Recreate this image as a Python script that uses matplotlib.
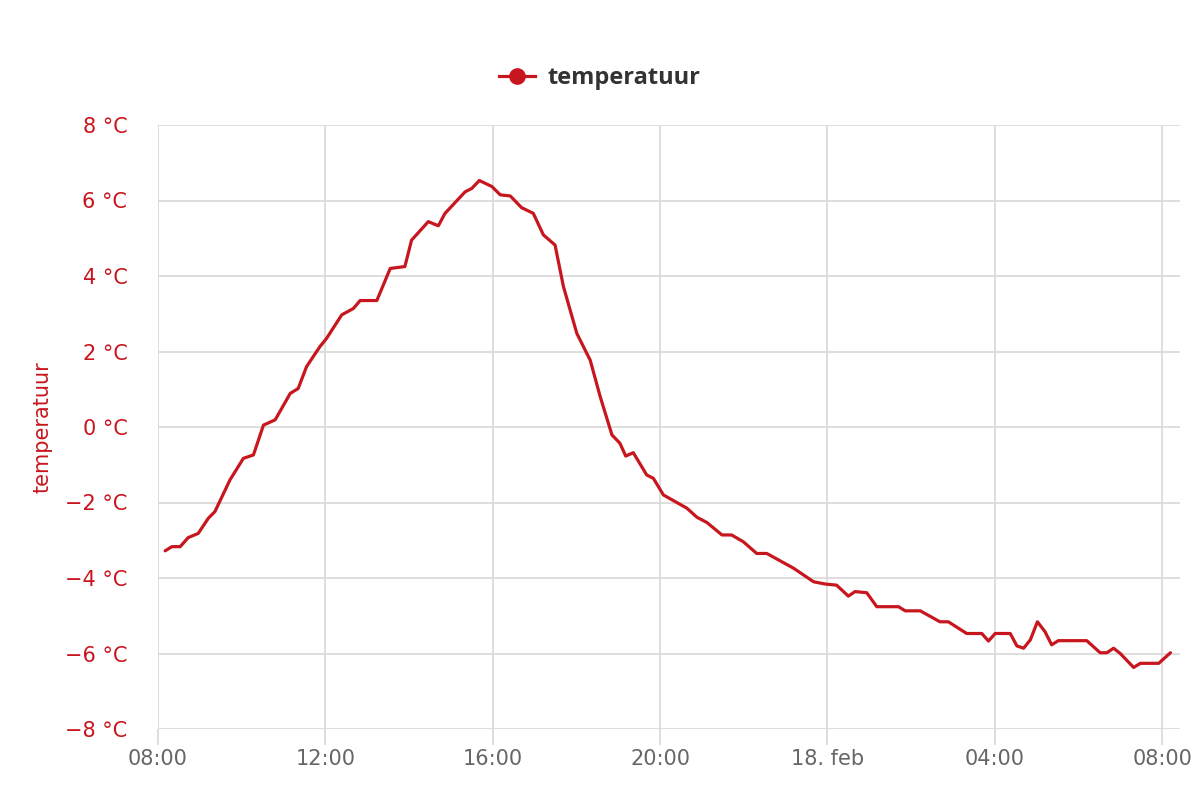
import matplotlib
matplotlib.use("Agg")
import matplotlib.pyplot as plt
from matplotlib.lines import Line2D

# uren sinds 17 feb 08:00
hours = [0.17, 0.33, 0.53, 0.72, 0.96, 1.20, 1.36, 1.72, 2.04, 2.28, 2.52, 2.80,
         3.16, 3.35, 3.55, 3.87, 4.03, 4.39, 4.67, 4.83, 5.23, 5.55, 5.90, 6.06,
         6.46, 6.70, 6.86, 7.34, 7.50, 7.68, 7.98, 8.18, 8.42, 8.69, 8.97, 9.21,
         9.49, 9.69, 10.01, 10.33, 10.57, 10.85, 11.04, 11.18, 11.36, 11.68, 11.84,
         12.08, 12.64, 12.88, 13.12, 13.48, 13.71, 13.99, 14.31, 14.55, 15.19, 15.67,
         15.95, 16.22, 16.50, 16.66, 16.94, 17.18, 17.70, 17.86, 18.22, 18.69, 18.89,
         19.33, 19.69, 19.85, 20.01, 20.37, 20.53, 20.69, 20.85, 21.02, 21.20, 21.36,
         21.52, 22.20, 22.52, 22.68, 22.84, 23.00, 23.32, 23.48, 23.92, 24.20]
temp = [-3.28, -3.17, -3.17, -2.93, -2.82, -2.42, -2.24, -1.40, -0.83, -0.74, 0.05, 0.19,
        0.89, 1.02, 1.60, 2.13, 2.35, 2.97, 3.14, 3.35, 3.35, 4.20, 4.25, 4.95,
        5.44, 5.33, 5.66, 6.23, 6.32, 6.53, 6.37, 6.15, 6.12, 5.81, 5.66, 5.09,
        4.82, 3.72, 2.48, 1.77, 0.80, -0.21, -0.43, -0.77, -0.68, -1.27, -1.36,
        -1.80, -2.15, -2.39, -2.53, -2.86, -2.86, -3.04, -3.35, -3.35, -3.74, -4.10,
        -4.16, -4.19, -4.48, -4.36, -4.39, -4.76, -4.76, -4.87, -4.87, -5.16, -5.16,
        -5.47, -5.47, -5.67, -5.47, -5.47, -5.80, -5.86, -5.64, -5.16, -5.42, -5.77,
        -5.66, -5.66, -5.98, -5.98, -5.86, -6.00, -6.37, -6.26, -6.26, -5.98]

xticks = [0, 4, 8, 12, 16, 20, 24]
xlabels = ['08:00', '12:00', '16:00', '20:00', '18. feb', '04:00', '08:00']
yticks = [-8, -6, -4, -2, 0, 2, 4, 6, 8]

rood = '#c8161e'
plt.rcParams['font.family'] = ['DejaVu Sans']

fig = plt.figure(figsize=(12, 8), dpi=100)
ax = fig.add_axes([0.1317, 0.08875, 0.8517, 0.755])

ax.plot(hours, temp, color=rood, lw=2.3, solid_joinstyle='round', solid_capstyle='round', zorder=3)

ax.set_xlim(0, 24.43)
ax.set_ylim(-8, 8)
ax.set_xticks(xticks)
ax.set_xticklabels(xlabels)
ax.set_yticks(yticks)
ax.set_yticklabels([('\u2212' if v < 0 else '') + '%d °C' % abs(v) for v in yticks])

ax.grid(True, color='#d8d8d8', lw=1.2)
ax.set_axisbelow(True)
for s in ax.spines.values():
    s.set_visible(False)
ax.tick_params(axis='x', colors='#d8d8d8', labelcolor='#666666', length=11.5, width=1.2,
               labelsize=15, pad=3)
ax.tick_params(axis='y', colors='#d8d8d8', labelcolor=rood, length=0, width=1.2,
               labelsize=15, pad=22)
ax.set_ylabel('temperatuur', color=rood, fontsize=15, labelpad=9)

handle = Line2D([], [], color=rood, lw=2.3, marker='o', markersize=11)
fig.legend([handle], ['temperatuur'], loc='center', bbox_to_anchor=(0.5, 0.902),
           frameon=False, handlelength=1.5, handletextpad=0.55,
           prop={'family': 'Open Sans', 'weight': 'bold', 'size': 17}, labelcolor='#333333')

fig.savefig('out.png', dpi=100, facecolor='white')
